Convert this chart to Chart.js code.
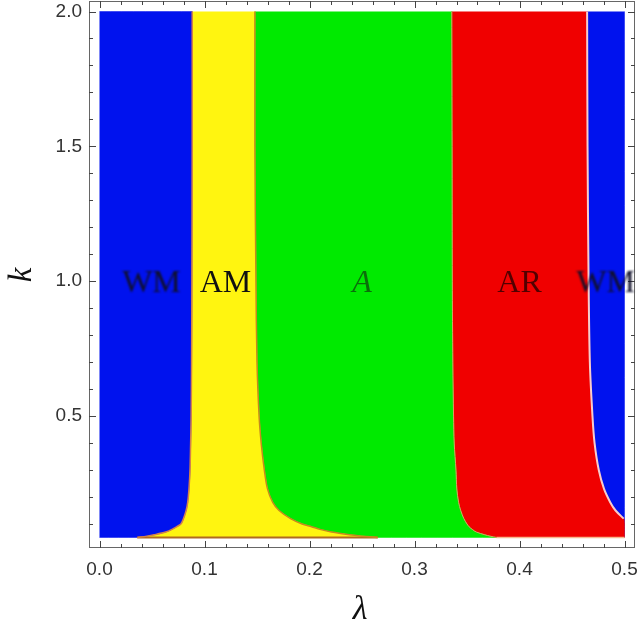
<!DOCTYPE html>
<html>
<head>
<meta charset="utf-8">
<script src="https://cdn.jsdelivr.net/npm/chart.js"></script>
<style>
  html, body { margin: 0; padding: 0; background: #fff; }
  #wrap { width: 640px; height: 631px; }
</style>
</head>
<body>
<div id="wrap"><canvas id="phaseChart" width="640" height="631"></canvas></div>
<script>
// k levels (top to bottom) and the lambda position of each phase boundary at that k
const kLevels  = [2.0, 1.5, 1.0, 0.7, 0.5, 0.4, 0.3, 0.23, 0.18, 0.15, 0.12, 0.1, 0.09, 0.08, 0.07, 0.06, 0.055, 0.05];
const wmAmEdge = [0.0883, 0.0883, 0.088, 0.0877, 0.0873, 0.0868, 0.0862, 0.0852, 0.084, 0.0825, 0.080, 0.0775, 0.0735, 0.069, 0.063, 0.052, 0.045, 0.036];
const amAEdge  = [0.148, 0.148, 0.149, 0.150, 0.152, 0.154, 0.157, 0.160, 0.165, 0.171, 0.182, 0.193, 0.202, 0.210, 0.221, 0.238, 0.250, 0.265];
const aArEdge  = [0.3355, 0.3358, 0.336, 0.3365, 0.3372, 0.3378, 0.3395, 0.3403, 0.342, 0.344, 0.347, 0.350, 0.352, 0.355, 0.359, 0.367, 0.372, 0.378];
const arWmEdge = [0.4644, 0.4648, 0.4658, 0.467, 0.4695, 0.4715, 0.4755, 0.4805, 0.4865, 0.4915, 0.4992, 0.5, 0.5, 0.5, 0.5, 0.5, 0.5, 0.5];

const lambdaMin = 0.0;
const lambdaMax = 0.5;
const kMin = 0.05;
const kMax = 2.0;

const regionNames = ["WM", "AM", "A", "AR", "WM"];
const regionLabelX = [0.0495, 0.12, 0.25, 0.40, 0.482];
const regionLabelK = 1.0;

const xTickStep = 0.1, xMinorStep = 0.02;
const yTickStep = 0.5, yMinorStep = 0.1;

const curveTension = 0.3;

const edgePts = (edge) => edge.map((x, i) => ({ x: x, y: kLevels[i] }));
const rev = (arr) => arr.slice().reverse();

// join chains into one closed outline; repeating the ends keeps the corners sharp
function poly(...chains) {
  const out = [];
  chains.forEach((c) => { out.push(c[0], ...c, c[c.length - 1]); });
  return out;
}

const blueLeft = poly([{ x: lambdaMin, y: kMax }], edgePts(wmAmEdge), [{ x: lambdaMin, y: kMin }]);
const yellow = poly(edgePts(wmAmEdge), rev(edgePts(amAEdge)));
const green = poly(edgePts(amAEdge), rev(edgePts(aArEdge)));
const red = poly(edgePts(aArEdge), rev(edgePts(arWmEdge)));
const blueRight = poly(edgePts(arWmEdge), [{ x: lambdaMax, y: kMax }]);

function region(data, color) {
  return {
    data: data,
    showLine: true,
    fill: "shape",
    tension: curveTension,
    backgroundColor: color,
    borderColor: color,
    borderWidth: 0.5,
    pointRadius: 0,
    order: 5,
  };
}

function edge(data, color, width) {
  return {
    data: data,
    showLine: true,
    fill: false,
    tension: curveTension,
    borderColor: color,
    borderWidth: width,
    pointRadius: 0,
    order: 1,
  };
}

const framePlugin = {
  id: "framePlugin",
  afterDraw(chart) {
    const { ctx, chartArea: a, scales } = chart;
    const xs = scales.x, ys = scales.y;
    ctx.save();

    // frame
    ctx.strokeStyle = "#666";
    ctx.lineWidth = 1;
    ctx.strokeRect(a.left + 0.5, a.top + 0.5, a.right - a.left - 1, a.bottom - a.top - 1);

    // inward ticks on all four sides
    ctx.strokeStyle = "#444";
    ctx.beginPath();
    for (let v = -0.1; v <= 0.6 + 1e-9; v += xMinorStep) {
      const val = Math.round(v * 100) / 100;
      if (val < xs.min || val > xs.max) continue;
      const major = Math.abs(val / xTickStep - Math.round(val / xTickStep)) < 1e-6;
      const len = major ? 7 : 4;
      const px = Math.round(xs.getPixelForValue(val)) + 0.5;
      ctx.moveTo(px, a.bottom); ctx.lineTo(px, a.bottom - len);
      ctx.moveTo(px, a.top); ctx.lineTo(px, a.top + len);
    }
    for (let v = 0; v <= 2.5 + 1e-9; v += yMinorStep) {
      const val = Math.round(v * 10) / 10;
      if (val < ys.min || val > ys.max) continue;
      const major = Math.abs(val / yTickStep - Math.round(val / yTickStep)) < 1e-6;
      const len = major ? 7 : 4;
      const py = Math.round(ys.getPixelForValue(val)) + 0.5;
      ctx.moveTo(a.left, py); ctx.lineTo(a.left + len, py);
      ctx.moveTo(a.right, py); ctx.lineTo(a.right - len, py);
    }
    ctx.stroke();

    // region names
    const ly = ys.getPixelForValue(regionLabelK);
    ctx.textAlign = "center";
    ctx.textBaseline = "middle";
    regionNames.forEach((name, i) => {
      const lx = xs.getPixelForValue(regionLabelX[i]);
      ctx.font = "32px 'Liberation Serif', serif";
      if (name === "A") {
        ctx.font = "italic 32px 'Liberation Serif', serif";
        ctx.fillStyle = "#0b6e0b";
      } else if (name === "AR") {
        ctx.fillStyle = "#520000";
      } else if (name === "AM") {
        ctx.fillStyle = "#111";
      } else {
        ctx.fillStyle = "#10102a";
        ctx.filter = "blur(1px)";
      }
      ctx.fillText(name, lx, ly + 2);
      ctx.filter = "none";
    });

    // axis titles
    ctx.fillStyle = "#111";
    ctx.font = "italic 34px 'Liberation Serif', serif";
    ctx.fillText("\u03bb", (a.left + a.right) / 2 - 2, 610);
    ctx.save();
    ctx.translate(22, 275);
    ctx.rotate(-Math.PI / 2);
    ctx.font = "italic 33px 'Liberation Serif', serif";
    ctx.fillText("k", 0, 0);
    ctx.restore();

    ctx.restore();
  },
};

const lastK = kLevels.length - 1;

new Chart(document.getElementById("phaseChart"), {
  type: "scatter",
  data: {
    datasets: [
      edge(edgePts(wmAmEdge), "#d4804c", 1.5),
      edge(edgePts(amAEdge), "#c48a1e", 1.5),
      edge(edgePts(aArEdge), "#d8a060", 1),
      edge(edgePts(arWmEdge).filter((p) => p.x < lambdaMax), "#f6cccc", 2),
      edge([{ x: wmAmEdge[lastK], y: kMin }, { x: amAEdge[lastK], y: kMin }], "#b06a20", 2),
      edge([{ x: aArEdge[lastK], y: kMin }, { x: lambdaMax, y: kMin }], "#f6b890", 1.5),
      region(blueLeft, "#0012ee"),
      region(yellow, "#fff510"),
      region(green, "#00ea00"),
      region(red, "#f00000"),
      region(blueRight, "#0012ee"),
    ],
  },
  options: {
    responsive: false,
    animation: false,
    layout: { padding: { top: 1, right: 5, left: 0, bottom: 0 } },
    plugins: {
      legend: { display: false },
      tooltip: { enabled: false },
    },
    scales: {
      x: {
        type: "linear",
        min: -0.01,
        max: 0.51,
        grid: { display: false, drawTicks: false },
        border: { display: false },
        ticks: {
          stepSize: xTickStep,
          includeBounds: false,
          padding: 10,
          color: "#333",
          font: { family: "Liberation Sans", size: 19 },
          maxRotation: 0,
          autoSkip: false,
          callback: (v) => v.toFixed(1),
        },
        afterFit: (s) => { s.height = 83; s.paddingLeft = 0; s.paddingRight = 0; },
      },
      y: {
        type: "linear",
        min: 0.011,
        max: 2.039,
        grid: { display: false, drawTicks: false },
        border: { display: false },
        ticks: {
          stepSize: yTickStep,
          includeBounds: false,
          padding: 7,
          color: "#333",
          font: { family: "Liberation Sans", size: 19 },
          autoSkip: false,
          callback: (v) => v.toFixed(1),
        },
        afterFit: (s) => { s.width = 89; s.paddingTop = 0; s.paddingBottom = 0; },
      },
    },
  },
  plugins: [framePlugin],
});
</script>
</body>
</html>
